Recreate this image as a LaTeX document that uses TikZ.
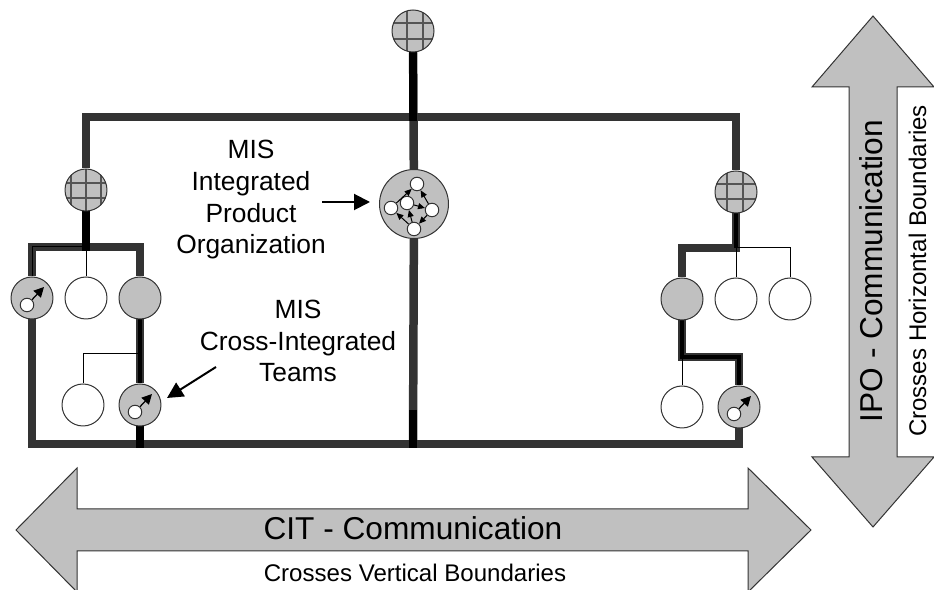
\documentclass[tikz,border=0pt]{standalone}
\usepackage{fontspec}
\setmainfont{Liberation Sans}
\usetikzlibrary{arrows.meta, positioning, calc}
\pgfdeclarelayer{background}
\pgfsetlayers{background,main}

\definecolor{linegray}{HTML}{333333}
\definecolor{gridgray}{HTML}{555555}
\definecolor{fillgray}{HTML}{C0C0C0}

\tikzset{
    circ/.style={circle, draw=linegray, line width=0.02cm, inner sep=0pt, minimum size=0.84cm},
    blank/.style={circ, fill=white},
    team/.style={circ, fill=fillgray},
    hub/.style 2 args={team, path picture={
        \foreach \x in {#1}
            \draw[gridgray, line width=0.05cm] ($(path picture bounding box.center)+(\x,-30)$) -- ++(0,60);
        \foreach \y in {#2}
            \draw[gridgray, line width=0.05cm] ($(path picture bounding box.center)+(-30,\y)$) -- ++(60,0);
    }},
    dot/.style={circle, draw=linegray, line width=0.02cm, fill=white, inner sep=0pt, minimum size=0.27cm},
    boundary/.style={draw=linegray, line width=0.02cm, fill=fillgray},
    wide/.style={linegray, line width=0.17cm},
    widedark/.style={black, line width=0.17cm},
    core/.style={black, line width=0.065cm},
    thin/.style={black, line width=0.02cm},
    pointer/.style={black, line width=0.04cm, -{Triangle[length=0.32cm, width=0.32cm]}},
    smalltip/.style={black, line width=0.025cm, -{Triangle[length=0.2cm, width=0.2cm]}},
    orgtip/.style={black, line width=0.02cm, -{Triangle[length=0.14cm, width=0.12cm]}},
    txt/.style={anchor=base, inner sep=0pt, font=\fontsize{15}{18.2}\selectfont, align=center},
    bigtxt/.style={anchor=base, inner sep=0pt, font=\fontsize{18}{21}\selectfont},
    smalltxt/.style={anchor=base, inner sep=0pt, font=\fontsize{13.7}{16}\selectfont},
}

\begin{document}
\begin{tikzpicture}[x=0.02cm, y=-0.02cm]

    \clip (0,0) rectangle (934,590);

    % boundary arrows
    \draw[boundary] (16,530) -- (77,468) -- (77,509) -- (748,509) -- (748,468) -- (811,530)
        -- (748,592) -- (748,551) -- (77,551) -- (77,592) -- cycle;
    \draw[boundary] (873,16) -- (934,87) -- (897,87) -- (897,457) -- (934,457) -- (873,527)
        -- (812,457) -- (849,457) -- (849,87) -- (812,87) -- cycle;

    % teams
    \node[hub={-6,10}{-8,8}] (topHub) at (413,31) {};
    \node[hub={-15,0,15}{-7,8}] (leftHub) at (86,190) {};
    \node[hub={-9,7}{-8,7}] (rightHub) at (736,192) {};
    \node[team, minimum size=1.38cm] (org) at (414,204) {};

    \node[team] (leftCit) at (32,298) {};
    \node[blank] (leftA) at (86,298) {};
    \node[team] (leftLead) at (140,298) {};
    \node[blank] (leftB) at (83,405) {};
    \node[team] (leftCross) at (140,405) {};

    \node[team] (rightLead) at (682,299) {};
    \node[blank] (rightA) at (736,299) {};
    \node[blank] (rightB) at (790,299) {};
    \node[blank] (rightC) at (682,407) {};
    \node[team] (rightCross) at (739,407) {};

    \coordinate (topJoin) at (413,117);
    \coordinate (botJoin) at (413,444);
    \coordinate (botLeft) at (32,444);
    \coordinate (botRight) at (739,444);
    \coordinate (leftJoin) at (86,247);
    \coordinate (leftCorner) at (32,247);
    \coordinate (leftCorner2) at (140,247);
    \coordinate (leftTee) at (140,354);
    \coordinate (rightJoin) at (736,248);
    \coordinate (rightStep) at (682,357);

    \begin{pgfonlayer}{background}
        \draw[wide] (leftHub) |- (topJoin) -| (rightHub);
        \draw[wide] (topHub) -- (org) -- (botJoin);
        \draw[wide] (leftCit) -- (leftCorner) -- (leftCorner2) -- (leftLead) -- (leftCross);
        \draw[wide] (leftCit) -- (botLeft) -- (botRight) -- (rightCross);
        \draw[wide] (rightHub) -- (rightJoin) -| (rightLead);
        \draw[wide] (rightLead) -- (rightStep) -| (rightCross);

        \draw[widedark] (topHub) -- ($(topJoin)+(0,4)$);
        \draw[widedark] (leftHub) -- ($(leftJoin)+(0,4)$);
        \draw[widedark] (leftCross) -- ($(leftCross|-botLeft)+(0,4)$);
        \draw[widedark] (413,410) -- ($(botJoin)+(0,4)$);

        \draw[core] (leftLead) -- (leftCross);
        \draw[core] (rightHub) -- (rightJoin);
        \draw[core] (rightLead) -- (rightStep) -| (rightCross);

        \draw[thin] (leftJoin) -- (leftCorner) -- (leftCit);
        \draw[thin] (leftJoin) -- (leftA);
        \draw[thin] (leftTee) -| (leftB);
        \draw[thin] (rightJoin) -- (rightA);
        \draw[thin] (rightJoin) -| (rightB);
        \draw[thin] (rightStep) -- (rightC);
    \end{pgfonlayer}

    % small movers
    \foreach \n in {leftCit, leftCross, rightCross} {
        \node[dot] (\n Dot) at ($(\n)+(-5,7)$) {};
        \coordinate (\n Tip) at ($(\n)+(12,-11)$);
        \draw[smalltip] (\n Dot) -- (\n Tip);
    }

    % inside the organization
    \node[dot] (orgTop) at (417,184) {};
    \node[dot] (orgLeft) at (391,208) {};
    \node[dot] (orgMid) at (407,203) {};
    \node[dot] (orgRight) at (432,210) {};
    \node[dot] (orgBot) at (414,229) {};
    \foreach \a/\b in {orgLeft/orgTop, orgRight/orgTop, orgMid/orgRight, orgBot/orgLeft, orgBot/orgMid, orgRight/orgBot}
        \draw[orgtip] (\a) -- (\b);

    % labels
    \node[txt] (ipoLabel) at (251,254) {MIS\\Integrated\\Product\\Organization};
    \node[txt] (citLabel) at (298,382) {MIS\\Cross-Integrated\\Teams};
    \node[bigtxt] (citTitle) at (413,540) {CIT - Communication};
    \node[smalltxt] (citNote) at (415,582) {Crosses Vertical Boundaries};
    \node[bigtxt, rotate=90] (ipoTitle) at (882,271) {IPO - Communication};
    \node[smalltxt, rotate=90] (ipoNote) at (926,271) {Crosses Horizontal Boundaries};

    \coordinate (ipoFrom) at (322,202);
    \coordinate (ipoTo) at (370,202);
    \coordinate (citFrom) at (216,367);
    \coordinate (citTo) at (167,398);
    \draw[pointer] (ipoFrom) -- (ipoTo);
    \draw[pointer] (citFrom) -- (citTo);

\end{tikzpicture}
\end{document}
